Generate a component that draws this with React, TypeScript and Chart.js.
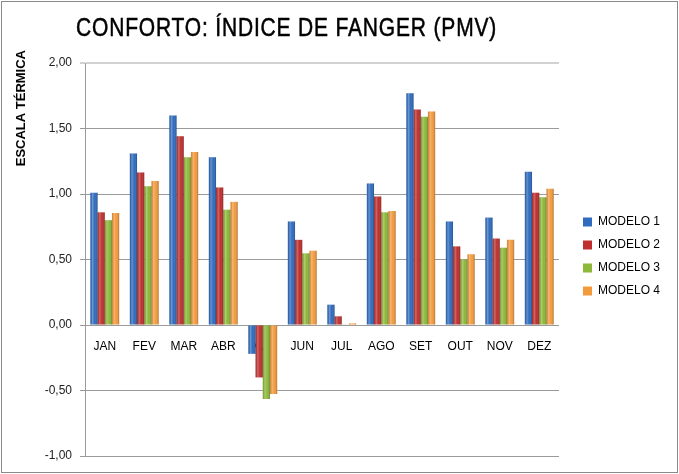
import React, { useEffect, useRef } from 'react';
import { Chart, registerables } from 'chart.js';

Chart.register(...registerables);

const MONTHS = ['JAN', 'FEV', 'MAR', 'ABR', 'MAI', 'JUN', 'JUL', 'AGO', 'SET', 'OUT', 'NOV', 'DEZ'];
const MODELO_1 = [1.01, 1.31, 1.6, 1.28, -0.22, 0.79, 0.155, 1.08, 1.77, 0.79, 0.82, 1.17];
const MODELO_2 = [0.86, 1.165, 1.44, 1.05, -0.4, 0.65, 0.066, 0.98, 1.645, 0.6, 0.66, 1.01];
const MODELO_3 = [0.8, 1.06, 1.28, 0.88, -0.565, 0.547, 0.005, 0.86, 1.59, 0.5, 0.59, 0.975];
const MODELO_4 = [0.855, 1.1, 1.32, 0.94, -0.527, 0.567, 0.012, 0.87, 1.63, 0.54, 0.65, 1.04];
const SERIES_LABELS = ['MODELO 1', 'MODELO 2', 'MODELO 3', 'MODELO 4'];
const SERIES_VALUES = [MODELO_1, MODELO_2, MODELO_3, MODELO_4];
const SERIES_COLORS = ['#2F6BBE', '#BE2F2E', '#8DB83A', '#F39A3D'];
const TITLE = 'CONFORTO: ÍNDICE DE FANGER (PMV)';
const Y_TITLE = 'ESCALA TÉRMICA';
const Y_MIN = -1;
const Y_MAX = 2;
const Y_STEP = 0.5;

const FONT = "'Liberation Sans', Arial, sans-serif";

const framePlugin = {
  id: 'frame',
  beforeDraw(chart: any) {
    const { ctx, width, height } = chart;
    ctx.save();
    ctx.fillStyle = '#ffffff';
    ctx.fillRect(0, 0, width, height);
    ctx.strokeStyle = '#8a8a8a';
    ctx.lineWidth = 1;
    ctx.strokeRect(1.5, 1.5, width - 3, height - 3);
    ctx.restore();
  },
};

const legendShiftPlugin = {
  id: 'legendShift',
  afterLayout(chart: any) {
    const lg = chart.legend;
    if (!lg) return;
    lg.left += 13;
    lg.right += 13;
    lg.top -= 3;
    lg.bottom -= 3;
  },
};

const textPlugin = {
  id: 'texts',
  afterDraw(chart: any) {
    const { ctx, chartArea } = chart;
    // main title, condensed glyphs (Arial Narrow look)
    ctx.save();
    ctx.fillStyle = '#000';
    ctx.strokeStyle = '#000';
    ctx.font = `25px ${FONT}`;
    ctx.textBaseline = 'alphabetic';
    ctx.textAlign = 'left';
    const sx = 0.84;
    const target = 421;
    const w0 = ctx.measureText(TITLE).width;
    const n = TITLE.length;
    const spacing = (target / sx - w0) / n;
    (ctx as any).letterSpacing = `${spacing.toFixed(2)}px`;
    ctx.translate(76, 36);
    ctx.scale(sx, 1);
    ctx.fillText(TITLE, 0, 0);
    ctx.lineWidth = 0.5;
    ctx.strokeText(TITLE, 0, 0);
    ctx.restore();

    // y axis title
    ctx.save();
    ctx.fillStyle = '#000';
    ctx.font = `bold 13px ${FONT}`;
    ctx.textBaseline = 'middle';
    ctx.textAlign = 'right';
    ctx.translate(21, chartArea.top - 13);
    ctx.rotate(-Math.PI / 2);
    ctx.fillText(Y_TITLE, 0, 0);
    ctx.restore();
  },
};

const shadePlugin = {
  id: 'barShade',
  afterDatasetsDraw(chart: any) {
    const { ctx } = chart;
    ctx.save();
    chart.data.datasets.forEach((_: any, di: number) => {
      const meta = chart.getDatasetMeta(di);
      if (meta.hidden) return;
      meta.data.forEach((el: any) => {
        const left = el.x - el.width / 2;
        const top = Math.min(el.y, el.base);
        const h = Math.abs(el.base - el.y);
        if (h < 0.5) return;
        const g = ctx.createLinearGradient(left, 0, left + el.width, 0);
        g.addColorStop(0, 'rgba(0,0,0,0.12)');
        g.addColorStop(0.3, 'rgba(255,255,255,0.28)');
        g.addColorStop(0.6, 'rgba(255,255,255,0.0)');
        g.addColorStop(1, 'rgba(0,0,0,0.28)');
        ctx.fillStyle = g;
        ctx.fillRect(left, top, el.width, h);
      });
    });
    ctx.restore();
  },
};

export default function App() {
  const ref = useRef<HTMLCanvasElement>(null);

  useEffect(() => {
    const canvas = ref.current;
    if (!canvas) return;
    const chart = new Chart(canvas, {
      type: 'bar',
      data: {
        labels: MONTHS,
        datasets: SERIES_LABELS.map((label, i) => ({
          label,
          data: SERIES_VALUES[i],
          backgroundColor: SERIES_COLORS[i],
          borderWidth: 0,
        })),
      },
      options: {
        responsive: false,
        animation: false,
        layout: { padding: { top: 63, right: 22, bottom: 18, left: 2 } },
        datasets: { bar: { categoryPercentage: 0.73, barPercentage: 1 } } as any,
        plugins: {
          legend: {
            position: 'right',
            labels: {
              boxWidth: 9,
              boxHeight: 9,
              padding: 11,
              color: '#000',
              font: { family: FONT, size: 12 },
            },
          },
          title: { display: false },
          tooltip: { enabled: false },
        },
        scales: {
          x: {
            position: { y: 0 } as any,
            grid: { display: false },
            border: { display: false },
            ticks: {
              color: '#000',
              font: { family: FONT, size: 12 },
              padding: 6,
              maxRotation: 0,
              autoSkip: false,
            },
            afterFit: (s: any) => {
              s.height = 0;
            },
          },
          y: {
            min: Y_MIN,
            max: Y_MAX,
            ticks: {
              stepSize: Y_STEP,
              color: '#222',
              font: { family: FONT, size: 12 },
              padding: 8,
              callback: (v: any) => Number(v).toFixed(2).replace('.', ','),
            },
            grid: {
              color: (c: any) => (c.tick && c.tick.value === Y_MAX ? '#d2d2d2' : '#9a9a9a'),
              lineWidth: (c: any) => (c.tick && c.tick.value === Y_MAX ? 2 : 1),
              tickLength: 5,
            },
            border: { color: '#9a9a9a' },
            title: { display: false },
            afterFit: (s: any) => {
              s.width = 83;
            },
          },
        },
      },
      plugins: [framePlugin, legendShiftPlugin, textPlugin, shadePlugin],
    });
    return () => chart.destroy();
  }, []);

  return (
    <div style={{ position: 'absolute', left: 0, top: 0, width: 679, height: 474 }}>
      <canvas ref={ref} width={679} height={474} style={{ display: 'block' }} />
    </div>
  );
}
